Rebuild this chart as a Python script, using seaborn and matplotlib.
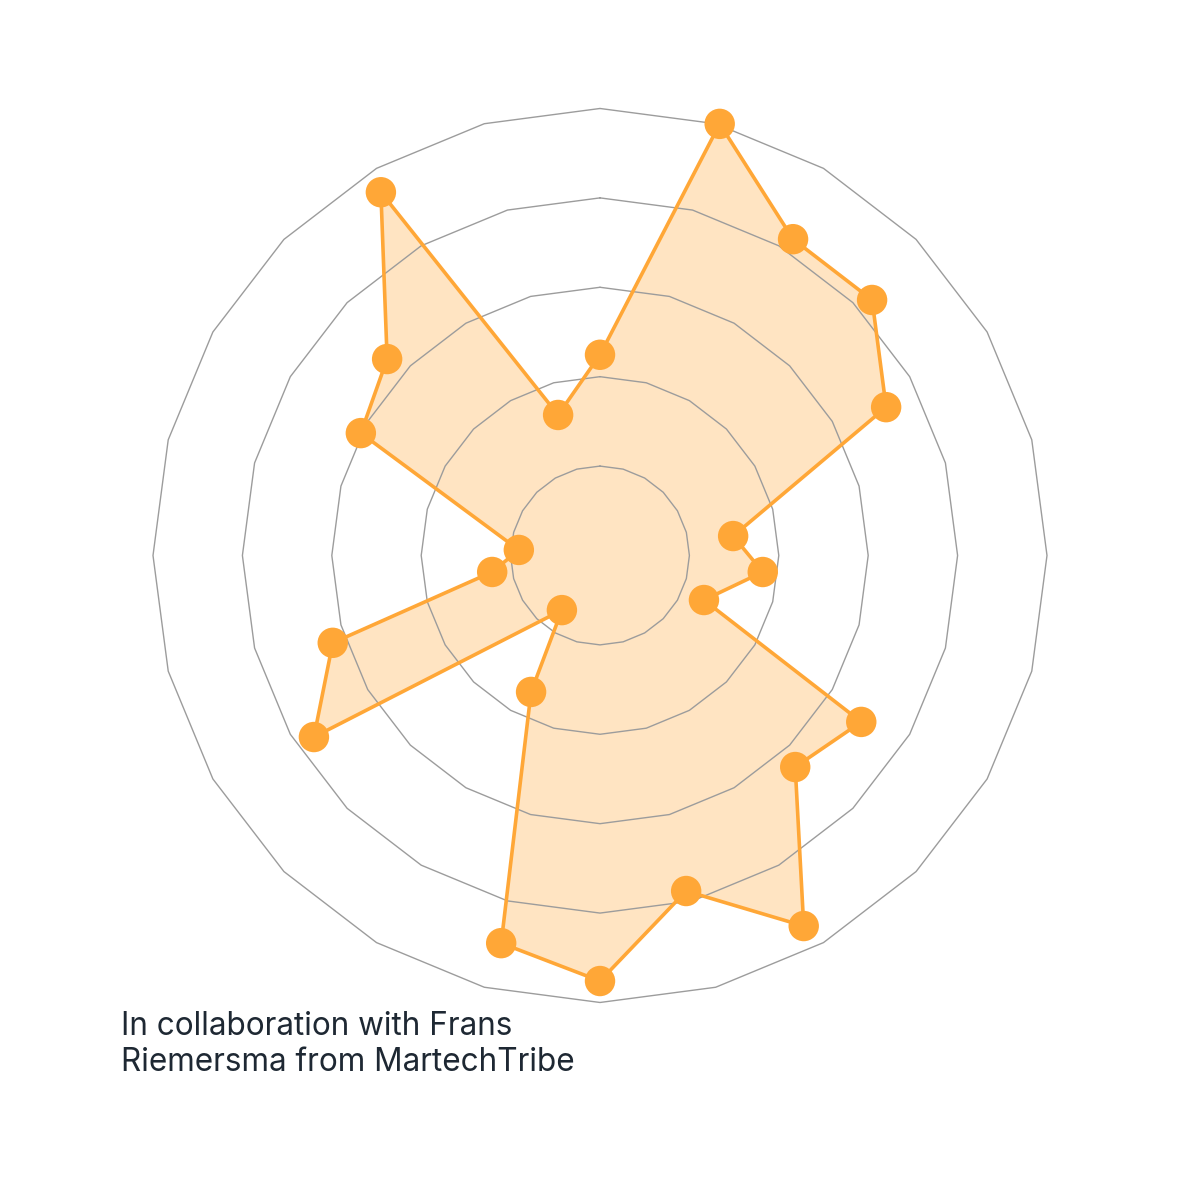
import numpy as np
import pandas as pd
import matplotlib
matplotlib.use("Agg")
import matplotlib.pyplot as plt
import seaborn as sns

# angle (degrees, clockwise from top) and value of each point
angles = [15.5, 31.4, 46.8, 62.6, 81.7, 95.8, 113.2, 122.5, 137.3, 151.2, 165.6, 180.0,
          194.3, 206.8, 214.9, 237.6, 251.9, 261.3, 273.9, 297.1, 312.7, 328.9, 343.4, 0.0]
values = [100.2, 82.9, 83.5, 72.1, 30.1, 36.6, 25.3, 69.3, 64.4, 94.6, 77.5, 95.2,
          89.5, 34.2, 14.9, 75.8, 62.9, 24.4, 18.2, 60.1, 64.8, 94.9, 32.8, 44.9]

ring_levels = [20, 40, 60, 80, 100]
n_spokes = 24
credit_lines = ["In collaboration with Frans", "Riemersma from MartechTribe"]

orange = "#ffa737"
grid_gray = "#9c9c9c"

sns.set_theme(style="white")
plt.rcParams['font.family'] = ['Inter', 'DejaVu Sans']

df = pd.DataFrame({'theta': np.deg2rad(angles), 'value': values})
closed = pd.concat([df, df.iloc[[0]]], ignore_index=True)

fig = plt.figure(figsize=(12, 12), dpi=100)
ax = fig.add_axes([0.1275, 0.1646, 0.745, 0.745], projection='polar')
ax.set_theta_zero_location('N')
ax.set_theta_direction(-1)
ax.set_ylim(0, 100)
ax.grid(False)
ax.spines['polar'].set_visible(False)
ax.set_xticks([])
ax.set_yticks([])
ax.set_facecolor('none')

# filled area
ax.fill(closed['theta'], closed['value'], color=orange, alpha=0.3, lw=0, zorder=1, clip_on=False)

# polygon grid rings
ring_theta = np.linspace(0, 2 * np.pi, n_spokes + 1)
for lvl in ring_levels:
    ax.plot(ring_theta, [lvl] * len(ring_theta), color=grid_gray, lw=1.0, zorder=2, clip_on=False)

# outline and points
ax.plot(closed['theta'], closed['value'], color=orange, lw=2.6, zorder=3, clip_on=False)
sns.scatterplot(data=df, x='theta', y='value', ax=ax, color=orange, s=480,
                edgecolor='none', linewidth=0, zorder=4, legend=False, clip_on=False)
ax.set_xlabel('')
ax.set_ylabel('')

# credit text, two lines
for i, line in enumerate(credit_lines):
    fig.text(121 / 1200, 1 - (1035 + 36 * i) / 1200, line, fontsize=22.7,
             color='#1e2833', ha='left', va='baseline')

fig.savefig("out.png", dpi=100, facecolor='white')
